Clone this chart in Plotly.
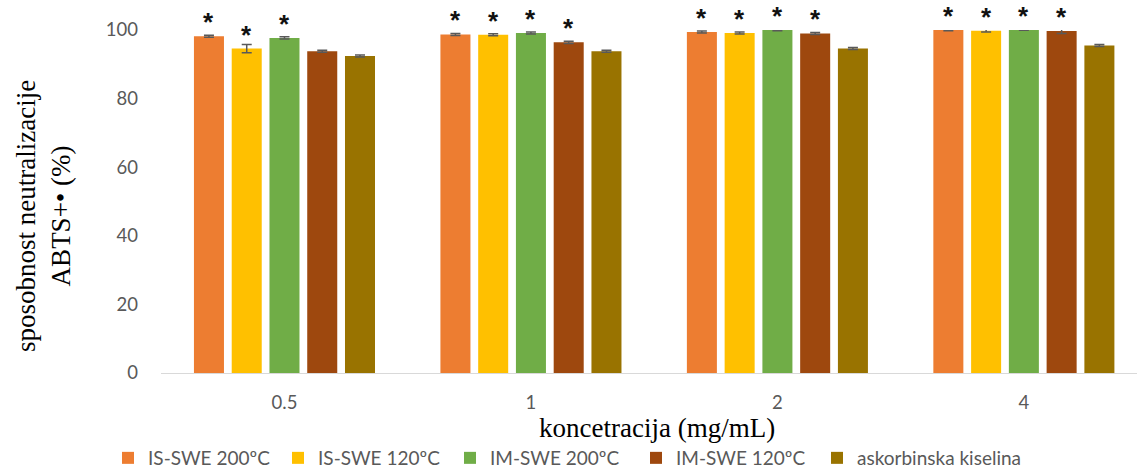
import plotly.graph_objects as go

# ABTS+• radical neutralisation (%) per concentration
categories = ["0.5", "1", "2", "4"]
series_names = ["IS-SWE 200ºC", "IS-SWE 120ºC", "IM-SWE 200ºC", "IM-SWE 120ºC", "askorbinska kiselina"]
is_swe_200 = [98.2, 98.7, 99.4, 100.0]
is_swe_120 = [94.6, 98.6, 99.1, 99.8]
im_swe_200 = [97.7, 99.1, 100.0, 100.0]
im_swe_120 = [93.8, 96.4, 99.0, 99.7]
askorbinska = [92.4, 93.8, 94.6, 95.5]

is_swe_200_err = [0.3, 0.3, 0.3, 0.2]
is_swe_120_err = [1.2, 0.3, 0.3, 0.4]
im_swe_200_err = [0.3, 0.3, 0.2, 0.1]
im_swe_120_err = [0.3, 0.3, 0.3, 0.7]
askorbinska_err = [0.3, 0.3, 0.3, 0.3]

# significance markers (*) per bar
is_swe_200_sig = [True, True, True, True]
is_swe_120_sig = [True, True, True, True]
im_swe_200_sig = [True, True, True, True]
im_swe_120_sig = [False, True, True, True]
askorbinska_sig = [False, False, False, False]

colors = ["#ED7D31", "#FFC000", "#70AD47", "#9E480E", "#997300"]

values = [is_swe_200, is_swe_120, im_swe_200, im_swe_120, askorbinska]
errors = [is_swe_200_err, is_swe_120_err, im_swe_200_err, im_swe_120_err, askorbinska_err]
sigs = [is_swe_200_sig, is_swe_120_sig, im_swe_200_sig, im_swe_120_sig, askorbinska_sig]

W, H = 1137, 468
ML, MR, MT, MB = 161, 0, 30, 95
BARGAP = 0.234
BARGROUPGAP = 0.205
n_series = len(series_names)
slot = (1 - BARGAP) / n_series

xpos = list(range(len(categories)))
tick_color = "#595959"
sans = "Lato, 'Liberation Sans', Arial, sans-serif"
serif = "'Liberation Serif', 'Times New Roman', serif"

fig = go.Figure()
legend_names = ["legend", "legend2", "legend3", "legend4", "legend5"]
for i, (name, vals, errs, col) in enumerate(zip(series_names, values, errors, colors)):
    fig.add_bar(
        x=xpos, y=vals, name=name,
        marker=dict(color=col, line=dict(width=0)),
        error_y=dict(type="data", array=errs, visible=True,
                     color="#595959", thickness=1.5, width=5),
        legend=legend_names[i],
        cliponaxis=False,
    )

annotations = []
for i, (vals, flags) in enumerate(zip(values, sigs)):
    for j, (v, s) in enumerate(zip(vals, flags)):
        if s:
            annotations.append(dict(
                x=xpos[j] + (i - (n_series - 1) / 2) * slot, y=v,
                xref="x", yref="y", text="<b>*</b>", showarrow=False,
                font=dict(family="'Liberation Sans', Arial, sans-serif", size=26, color="#111111"),
                xanchor="center", yanchor="middle", yshift=14,
            ))

# axis titles
annotations.append(dict(
    text="sposobnost neutralizacije<br>ABTS+• (%)", textangle=-90,
    xref="paper", yref="paper",
    x=(43 - ML) / (W - ML - MR), y=1 - (216 - MT) / (H - MT - MB),
    xanchor="center", yanchor="middle", showarrow=False,
    font=dict(family=serif, size=27, color="#000000"),
))
annotations.append(dict(
    text="koncetracija (mg/mL)",
    xref="paper", yref="paper",
    x=(657 - ML) / (W - ML - MR), y=-(428 - (H - MB)) / (H - MT - MB),
    xanchor="center", yanchor="middle", showarrow=False,
    font=dict(family=serif, size=27, color="#000000"),
))

layout_legends = {}
legend_text_x = [148, 318, 490, 676, 857]
for k, lx in enumerate(legend_text_x):
    layout_legends[legend_names[k]] = dict(
        xref="container", yref="container",
        x=(lx - 40) / W, y=1 - 458 / H,
        xanchor="left", yanchor="middle",
        orientation="h", bgcolor="rgba(0,0,0,0)",
        font=dict(family=sans, size=19, color=tick_color),
        itemwidth=30,
    )

fig.update_layout(
    width=W, height=H,
    margin=dict(l=ML, r=MR, t=MT, b=MB, pad=0),
    paper_bgcolor="white", plot_bgcolor="white",
    barmode="group", bargap=BARGAP, bargroupgap=BARGROUPGAP,
    showlegend=True,
    annotations=annotations,
    **layout_legends,
)

fig.update_xaxes(
    range=[-0.501, 3.459], tickvals=xpos, ticktext=categories,
    showline=True, linecolor="#D9D9D9", linewidth=1,
    showgrid=False, zeroline=False, ticks="",
    tickfont=dict(family=sans, size=18.5, color=tick_color),
    ticklabelstandoff=13,
)
fig.update_yaxes(
    range=[0, 100], tickvals=[0, 20, 40, 60, 80, 100],
    showline=False, showgrid=False, zeroline=False, ticks="",
    tickfont=dict(family=sans, size=18.5, color=tick_color),
    ticklabelstandoff=22,
)

fig.write_html("out.html", config={"displayModeBar": False})
